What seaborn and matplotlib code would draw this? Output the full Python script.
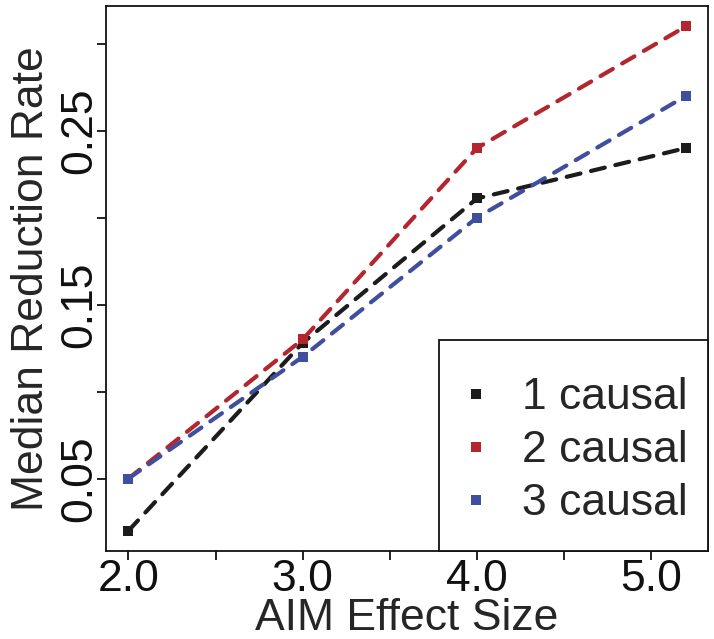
import numpy as np
import pandas as pd
import matplotlib
matplotlib.use("Agg")
import matplotlib.pyplot as plt
from matplotlib.lines import Line2D
from matplotlib.patches import Rectangle
import seaborn as sns

# --- data ---
effect_size = [2.0, 3.0, 4.0, 5.2]
causal_1 = [0.020, 0.128, 0.211, 0.240]
causal_2 = [0.050, 0.130, 0.240, 0.310]
causal_3 = [0.050, 0.120, 0.200, 0.270]
series_names = ["1 causal", "2 causal", "3 causal"]
colors = ["#1c1c1c", "#b3262d", "#3f4f9e"]

x_ticks = [2.0, 2.5, 3.0, 3.5, 4.0, 4.5, 5.0]
x_labels = ["2.0", "", "3.0", "", "4.0", "", "5.0"]
y_ticks = [0.05, 0.10, 0.15, 0.20, 0.25, 0.30]
y_labels = ["0.05", "", "0.15", "", "0.25", ""]

df = pd.DataFrame({
    "size": effect_size * 3,
    "rate": causal_1 + causal_2 + causal_3,
    "causal": np.repeat(series_names, len(effect_size)),
})

sns.set_style("ticks")
plt.rcParams["font.family"] = ["Liberation Sans", "DejaVu Sans"]
FS = 32

fig = plt.figure(figsize=(7.14, 6.39), dpi=100)
ax = fig.add_axes([0.1485, 0.1377, 0.8431, 0.8529])

paleta = dict(zip(series_names, colors))
sns.lineplot(
    data=df, x="size", y="rate", hue="causal", palette=paleta,
    marker="s", markersize=7.5, markeredgewidth=0, linewidth=3,
    legend=False, ax=ax,
)
for ln in ax.lines:
    ln.set_dashes([3.4, 2.6])
    ln.set_dash_capstyle("round")

ax.set_xlim(1.872, 5.325)
ax.set_ylim(0.0084, 0.3216)
ax.set_xticks(x_ticks)
ax.set_xticklabels(x_labels)
ax.set_yticks(y_ticks)
ax.set_yticklabels(y_labels, rotation=90, va="center")
ax.tick_params(axis="both", direction="out", length=6.5, width=1.3,
               labelsize=FS, colors="#111111")
ax.tick_params(axis="x", pad=-1)
ax.tick_params(axis="y", pad=-2)

for s in ax.spines.values():
    s.set_linewidth(1.3)
    s.set_color("#111111")
    s.set_visible(True)

ax.set_xlabel("AIM Effect Size", fontsize=FS, labelpad=-1.5)
ax.set_ylabel("Median Reduction Rate", fontsize=FS, labelpad=5)

# legend box (R style: square frame in the lower right corner)
ax.add_patch(Rectangle((0.553, 0.0), 0.447, 0.387, transform=ax.transAxes,
                       facecolor="white", edgecolor="#111111", linewidth=1.3,
                       zorder=4, clip_on=False))
handles = [Line2D([], [], linestyle="none", marker="s", markersize=7.5,
                  markeredgewidth=0, color=c) for c in colors]
leg = ax.legend(handles, series_names, loc="center",
                bbox_to_anchor=(0.781, 0.184), fontsize=FS, frameon=False,
                handlelength=0.5, handletextpad=0.79, labelspacing=0.27,
                borderpad=0)
leg.set_zorder(5)

fig.savefig("out.png", dpi=100)
